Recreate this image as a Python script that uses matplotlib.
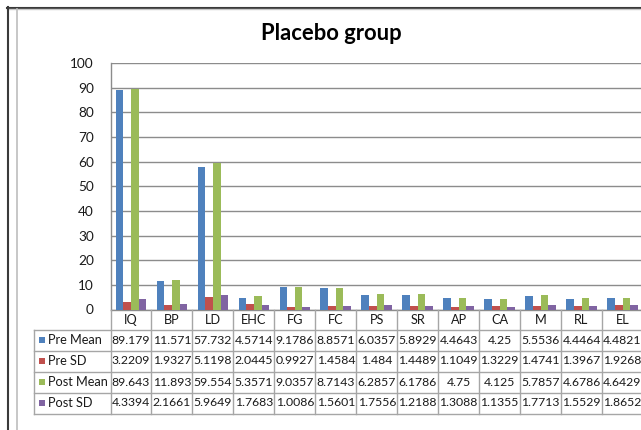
import matplotlib
matplotlib.use("Agg")
import matplotlib.pyplot as plt
from matplotlib.transforms import blended_transform_factory
from matplotlib.lines import Line2D
import numpy as np

plt.rcParams['font.family'] = ['Lato', 'DejaVu Sans']

categories = ["IQ", "BP", "LD", "EHC", "FG", "FC", "PS", "SR", "AP", "CA", "M", "RL", "EL"]
pre_mean  = [89.179, 11.571, 57.732, 4.5714, 9.1786, 8.8571, 6.0357, 5.8929, 4.4643, 4.25, 5.5536, 4.4464, 4.4821]
pre_sd    = [3.2209, 1.9327, 5.1198, 2.0445, 0.9927, 1.4584, 1.484, 1.4489, 1.1049, 1.3229, 1.4741, 1.3967, 1.9268]
post_mean = [89.643, 11.893, 59.554, 5.3571, 9.0357, 8.7143, 6.2857, 6.1786, 4.75, 4.125, 5.7857, 4.6786, 4.6429]
post_sd   = [4.3394, 2.1661, 5.9649, 1.7683, 1.0086, 1.5601, 1.7556, 1.2188, 1.3088, 1.1355, 1.7713, 1.5529, 1.8652]
# display strings as in the data table
pre_mean_s  = ["89.179", "11.571", "57.732", "4.5714", "9.1786", "8.8571", "6.0357", "5.8929", "4.4643", "4.25", "5.5536", "4.4464", "4.4821"]
pre_sd_s    = ["3.2209", "1.9327", "5.1198", "2.0445", "0.9927", "1.4584", "1.484", "1.4489", "1.1049", "1.3229", "1.4741", "1.3967", "1.9268"]
post_mean_s = ["89.643", "11.893", "59.554", "5.3571", "9.0357", "8.7143", "6.2857", "6.1786", "4.75", "4.125", "5.7857", "4.6786", "4.6429"]
post_sd_s   = ["4.3394", "2.1661", "5.9649", "1.7683", "1.0086", "1.5601", "1.7556", "1.2188", "1.3088", "1.1355", "1.7713", "1.5529", "1.8652"]
series_names = ["Pre Mean", "Pre SD", "Post Mean", "Post SD"]
colors = ["#4F81BD", "#C0504D", "#9BBB59", "#8064A2"]
yticks = [0, 10, 20, 30, 40, 50, 60, 70, 80, 90, 100]

W, H = 641, 430
fig = plt.figure(figsize=(W / 100, H / 100), dpi=100)
fig.patch.set_facecolor("white")

def fx(px):
    return px / W

def fy(py):
    return 1 - py / H

ax_left, ax_right, ax_top, ax_bot = 110.5, 643.0, 63.0, 309.5
ax = fig.add_axes([fx(ax_left), fy(ax_bot), fx(ax_right) - fx(ax_left), (ax_bot - ax_top) / H])

n = len(categories)
x = np.arange(n)
bw = 0.187
all_series = [pre_mean, pre_sd, post_mean, post_sd]
for i, (vals, c) in enumerate(zip(all_series, colors)):
    ax.bar(x + (i - 1.5) * bw, vals, width=bw, color=c, zorder=3, linewidth=0)

ax.set_xlim(-0.5, n - 0.5)
ax.set_ylim(0, 100)
ax.set_yticks(yticks)
ax.yaxis.grid(True, color="#8C8C8C", linewidth=1.0, zorder=0)
ax.set_axisbelow(True)
ax.set_xticks([])
ax.tick_params(axis="y", length=0, pad=12, labelsize=9.8, labelcolor="#1a1a1a")
for s in ["top", "right"]:
    ax.spines[s].set_visible(False)
for s in ["left", "bottom"]:
    ax.spines[s].set_color("#8C8C8C")
    ax.spines[s].set_linewidth(1.0)

# Title
fig.text(fx(331), fy(33), "Placebo group", ha="center", va="center",
         fontsize=15.8, fontweight="bold", color="#000000")

# Data table
tr = blended_transform_factory(ax.transData, fig.transFigure)
line_c = "#A6A6A6"
row_edges = [329.5, 350.5, 371.5, 392.5, 413.5]
tbl_left_px = 33.5

# category label row
for j, cat in enumerate(categories):
    ax.text(j, fy(319.5), cat, transform=tr, ha="center", va="center",
            fontsize=9.2, color="#1a1a1a", clip_on=False)
# vertical boundaries
for k in range(n + 1):
    xb = k - 0.5
    fig.add_artist(Line2D([xb, xb], [fy(ax_bot), fy(row_edges[-1])], transform=tr,
                          color=line_c, linewidth=1.0))
# horizontal lines
for r in row_edges:
    fig.add_artist(Line2D([fx(tbl_left_px), fx(ax_right)], [fy(r), fy(r)],
                          transform=fig.transFigure, color=line_c, linewidth=1.0))
fig.add_artist(Line2D([fx(tbl_left_px), fx(tbl_left_px)], [fy(row_edges[0]), fy(row_edges[-1])],
                      transform=fig.transFigure, color=line_c, linewidth=1.0))

table_strings = [pre_mean_s, pre_sd_s, post_mean_s, post_sd_s]
for i, (name, c, strs) in enumerate(zip(series_names, colors, table_strings)):
    yc = (row_edges[i] + row_edges[i + 1]) / 2
    fig.add_artist(plt.Rectangle((fx(38.5), fy(yc + 3)), 6 / W, 6 / H,
                                 transform=fig.transFigure, color=c, linewidth=0))
    fig.text(fx(48), fy(yc), name, ha="left", va="center", fontsize=9.2, color="#1a1a1a")
    for j, s in enumerate(strs):
        ax.text(j, fy(yc), s, transform=tr, ha="center", va="center",
                fontsize=8.8, color="#1a1a1a", clip_on=False)

# outer frame lines
fig.add_artist(Line2D([fx(7), 1], [fy(7.5), fy(7.5)], transform=fig.transFigure,
                      color="#3a3a3a", linewidth=1.5))
fig.add_artist(Line2D([fx(7), 1], [fy(9), fy(9)], transform=fig.transFigure,
                      color="#C8C8C8", linewidth=1.0))
fig.add_artist(Line2D([fx(7.5), fx(7.5)], [fy(7), 0], transform=fig.transFigure,
                      color="#3a3a3a", linewidth=1.5))
fig.add_artist(Line2D([fx(17), fx(17)], [fy(9), 0], transform=fig.transFigure,
                      color="#BEBEBE", linewidth=1.2))

fig.savefig("out.png", dpi=100, facecolor="white")
